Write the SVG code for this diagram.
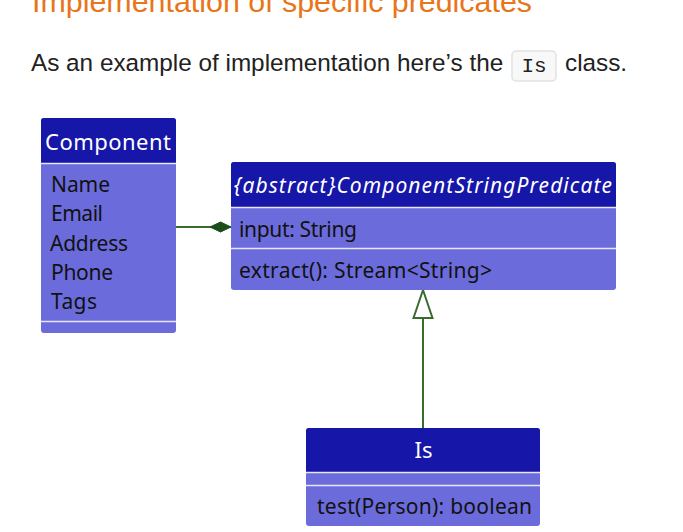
<svg xmlns="http://www.w3.org/2000/svg" width="683" height="532" viewBox="0 0 683 532">
<defs>
<style>
.title{font-family:"Liberation Sans",Arial,sans-serif;font-size:30.4px;fill:#E8751A}
.para{font-family:"Liberation Sans",Arial,sans-serif;font-size:24.3px;fill:#222}
.code{font-family:"Liberation Mono","Courier New",monospace;font-size:21px;fill:#222}
.codebox{fill:#F8F8F8;stroke:#E2E2E2;stroke-width:1.5}
.body{fill:#6B6BDB}
.head{fill:#1616A8}
.sep{stroke:#E6E6F5;stroke-width:1.6}
.htxt{font-family:"Noto Sans","Open Sans",sans-serif;font-size:22px;fill:#FFFFFF}
.hital{font-family:"Noto Sans","Open Sans",sans-serif;font-size:21px;font-style:italic;fill:#FFFFFF}
.atxt{font-family:"Noto Sans","Open Sans",sans-serif;font-size:21px;fill:#111111}
.conn{stroke:#3A6B2E;stroke-width:2;fill:none}
</style>
<marker id="diamond" markerUnits="userSpaceOnUse" markerWidth="22" markerHeight="12" refX="21" refY="6" orient="auto" overflow="visible">
<path d="M0,6 L10.5,1 L21,6 L10.5,11 z" fill="#1B4D1B" stroke="#1B4D1B" stroke-width="1"/>
</marker>
<marker id="tri" markerUnits="userSpaceOnUse" markerWidth="30" markerHeight="22" refX="0" refY="9.5" orient="auto" overflow="visible">
<path d="M0,0 L28,9.5 L0,19 z" fill="#FFFFFF" stroke="#3A6B2E" stroke-width="2"/>
</marker>
</defs>
<rect width="683" height="532" fill="#FFFFFF"/>
<text class="title" x="32" y="12">Implementation of specific predicates</text>
<text class="para" x="31" y="71">As an example of implementation here’s the</text>
<rect class="codebox" x="512" y="51" width="44" height="30" rx="4"/>
<text class="code" x="534" y="72" text-anchor="middle">Is</text>
<text class="para" x="565" y="71">class.</text>

<g id="connectors">
<line class="conn" x1="176" y1="227" x2="231" y2="227" marker-end="url(#diamond)"/>
<line class="conn" x1="423" y1="428" x2="423" y2="318" marker-end="url(#tri)"/>
</g>

<g id="Component">
<rect class="body" x="41" y="118" width="135" height="215" rx="3"/>
<path class="head" d="M41,163 V121 Q41,118 44,118 H173 Q176,118 176,121 V163 z"/>
<line class="sep" x1="41" y1="163.5" x2="176" y2="163.5"/>
<line class="sep" x1="41" y1="321.5" x2="176" y2="321.5"/>
<text class="htxt" x="45" y="150" textLength="126">Component</text>
<text class="atxt" x="51" y="192" textLength="59">Name</text>
<text class="atxt" x="51" y="221" textLength="52">Email</text>
<text class="atxt" x="50" y="251" textLength="78">Address</text>
<text class="atxt" x="51" y="280" textLength="62">Phone</text>
<text class="atxt" x="51" y="309" textLength="46">Tags</text>
</g>

<g id="ComponentStringPredicate">
<rect class="body" x="231" y="162" width="385" height="128" rx="3"/>
<path class="head" d="M231,207 V165 Q231,162 234,162 H613 Q616,162 616,165 V207 z"/>
<line class="sep" x1="231" y1="207.5" x2="616" y2="207.5"/>
<line class="sep" x1="231" y1="248.5" x2="616" y2="248.5"/>
<text class="hital" x="234" y="193" textLength="378">{abstract}ComponentStringPredicate</text>
<text class="atxt" x="239" y="237" textLength="118">input: String</text>
<text class="atxt" x="239" y="278" textLength="253">extract(): Stream&lt;String&gt;</text>
</g>

<g id="Is">
<rect class="body" x="306" y="428" width="234" height="98" rx="3"/>
<path class="head" d="M306,472 V431 Q306,428 309,428 H537 Q540,428 540,431 V472 z"/>
<line class="sep" x1="306" y1="472.5" x2="540" y2="472.5"/>
<line class="sep" x1="306" y1="485.5" x2="540" y2="485.5"/>
<text class="htxt" x="423.5" y="458" text-anchor="middle">Is</text>
<text class="atxt" x="317" y="514" textLength="215">test(Person): boolean</text>
</g>
</svg>
